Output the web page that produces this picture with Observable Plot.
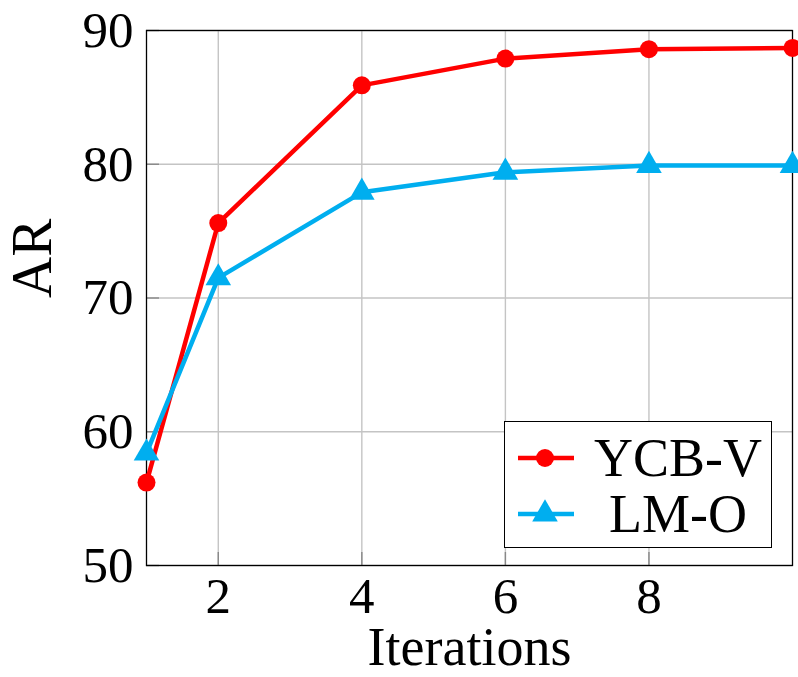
<!DOCTYPE html>
<html>
<head>
<meta charset="utf-8">
<script src="https://cdn.jsdelivr.net/npm/d3@7"></script>
<script src="https://cdn.jsdelivr.net/npm/@observablehq/plot@0.6"></script>
<style>
  html, body { margin: 0; padding: 0; background: #fff; }
  #wrap { position: relative; width: 798px; height: 677px; }
  #legend { position: absolute; left: 504px; top: 421px; width: 266px; height: 125px;
    border: 1.3px solid #000; background: #fff; font-family: "Liberation Serif", serif; font-size: 54px; }
  .row { position: absolute; left: 0; width: 266px; height: 56px; }
  .row svg { position: absolute; left: 12px; top: 0; }
  .row span { position: absolute; left: 80px; right: 0; text-align: center; top: 0; line-height: 56px; }
</style>
</head>
<body>
<div id="wrap"></div>
<script>
const iterations = [1, 2, 4, 6, 8, 10];
const ycbv = [56.2, 75.6, 85.9, 87.9, 88.6, 88.7];
const lmo = [58.4, 71.5, 77.9, 79.4, 79.9, 79.9];
const seriesNames = ["YCB-V", "LM-O"];
const colors = ["#ff0000", "#00aeef"];
const xTicks = [2, 4, 6, 8];
const yTicks = [50, 60, 70, 80, 90];
const xLabel = "Iterations";
const yLabel = "AR";

const rows = [];
iterations.forEach((it, i) => {
  rows.push({it, v: ycbv[i], s: seriesNames[0]});
  rows.push({it, v: lmo[i], s: seriesNames[1]});
});

const W = 798, H = 677, mL = 146, mR = 6, mT = 30, mB = 112;
const innerW = W - mL - mR, innerH = H - mT - mB;
const tickLen = 13;

const chart = Plot.plot({
  width: W,
  height: H,
  marginLeft: mL,
  marginRight: mR,
  marginTop: mT,
  marginBottom: mB,
  style: { fontFamily: "Liberation Serif, serif", fontSize: "51px", background: "#fff", color: "#000", overflow: "visible" },
  x: { domain: [1, 10] },
  y: { domain: [50, 90] },
  marks: [
    Plot.gridX(xTicks, { stroke: "#c4c4c4", strokeOpacity: 1, strokeWidth: 1.4 }),
    Plot.gridY(yTicks, { stroke: "#c4c4c4", strokeOpacity: 1, strokeWidth: 1.4 }),
    Plot.ruleX(xTicks, { x: d => d, stroke: "#888", strokeWidth: 1.4, insetTop: innerH - tickLen }),
    Plot.ruleY(yTicks, { y: d => d, stroke: "#888", strokeWidth: 1.4, insetRight: innerW - tickLen }),
    Plot.axisX(xTicks, { tickSize: 0, tickPadding: 11, label: null, fontSize: 51 }),
    Plot.axisY(yTicks, { tickSize: 0, tickPadding: 13, label: null, fontSize: 51 }),
    Plot.text([xLabel], { text: d => d, frameAnchor: "bottom", lineAnchor: "middle", dy: 82, fontSize: 54 }),
    Plot.text([yLabel], { text: d => d, frameAnchor: "left", lineAnchor: "middle", rotate: -90, dx: -114, fontSize: 57 }),
    Plot.frame({ stroke: "#000", strokeWidth: 1.3 }),
    Plot.line(rows, { x: "it", y: "v", stroke: d => colors[seriesNames.indexOf(d.s)], z: "s", strokeWidth: 4.5 }),
    Plot.dot(rows.filter(d => d.s === seriesNames[0]), { x: "it", y: "v", fill: colors[0], r: 9, symbol: "circle" }),
    Plot.dot(rows.filter(d => d.s === seriesNames[1]), { x: "it", y: "v", fill: colors[1], r: 9.5, symbol: "triangle" })
  ]
});
const wrap = document.getElementById("wrap");
wrap.appendChild(chart);

const legend = document.createElement("div");
legend.id = "legend";
const sym = [
  '<circle cx="28" cy="28" r="9" fill="' + colors[0] + '"/>',
  '<path d="' + d3.symbol(d3.symbolTriangle, Math.PI * 9.5 * 9.5)() + '" transform="translate(28,28)" fill="' + colors[1] + '"/>'
];
seriesNames.forEach((name, i) => {
  const row = document.createElement("div");
  row.className = "row";
  row.style.top = (8 + i * 56) + "px";
  row.innerHTML = '<svg width="58" height="56"><line x1="1" x2="57" y1="28" y2="28" stroke="' + colors[i] + '" stroke-width="4.5"/>' + sym[i] + '</svg><span>' + name + '</span>';
  legend.appendChild(row);
});
wrap.appendChild(legend);
</script>
</body>
</html>
